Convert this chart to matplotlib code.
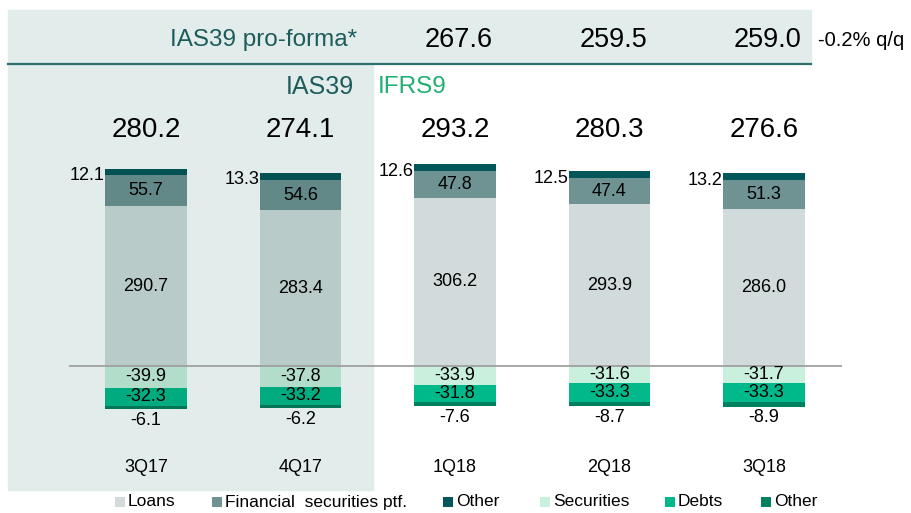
import numpy as np
import matplotlib
matplotlib.use("Agg")
import matplotlib.pyplot as plt
from matplotlib.patches import Rectangle
from matplotlib.lines import Line2D
import matplotlib.transforms as mtransforms

plt.rcParams['font.family'] = ['Liberation Sans', 'DejaVu Sans']

quarters = ['3Q17', '4Q17', '1Q18', '2Q18', '3Q18']
loans = [290.7, 283.4, 306.2, 293.9, 286.0]
fin_sec = [55.7, 54.6, 47.8, 47.4, 51.3]
other_pos = [12.1, 13.3, 12.6, 12.5, 13.2]
securities = [-39.9, -37.8, -33.9, -31.6, -31.7]
debts = [-32.3, -33.2, -31.8, -33.3, -33.3]
other_neg = [-6.1, -6.2, -7.6, -8.7, -8.9]
totals = ['280.2', '274.1', '293.2', '280.3', '276.6']
proforma = ['267.6', '259.5', '259.0']
legend_labels = ['Loans', 'Financial  securities ptf.', 'Other', 'Securities', 'Debts', 'Other']

c_loans = '#d1dbdb'
c_fin = '#6f9393'
c_oth = '#03575a'
c_sec = '#c9efdd'
c_debt = '#00b98b'
c_oneg = '#00805e'
panel = '#e2ecea'
teal_txt = '#1e5c5c'
green_txt = '#1fb071'


def shade(c, on):
    # bars in the grey IAS39 panel look multiplied by the panel colour
    if not on:
        return c
    a = np.array(matplotlib.colors.to_rgb(c))
    b = np.array(matplotlib.colors.to_rgb(panel))
    return tuple(a * b)


W, H = 912, 513
fig = plt.figure(figsize=(W / 100, H / 100), dpi=100)
ax = fig.add_axes([0, 0, 1, 1])
ax.set_zorder(1)
ax.set_xlim(-0.945, 4.958)
ax.set_ylim(-267.3, 665.5)
ax.axis('off')


def yp(p):
    return 1 - p / H


# background panels (pixel layout)
fig.patches.append(Rectangle((8 / W, yp(490)), (373 - 8) / W, (490 - 65) / H,
                             transform=fig.transFigure, color=panel, zorder=0))
fig.patches.append(Rectangle((8 / W, yp(63)), (811 - 8) / W, (63 - 10) / H,
                             transform=fig.transFigure, color=panel, zorder=0))
fig.lines.append(Line2D([8 / W, 811 / W], [yp(63.5), yp(63.5)],
                        transform=fig.transFigure, color='#2d7070', lw=1.6, zorder=0.5))

x = np.arange(len(quarters))
w = 0.525
loans = np.array(loans)
fin_sec = np.array(fin_sec)
other_pos = np.array(other_pos)
securities = np.array(securities)
debts = np.array(debts)
other_neg = np.array(other_neg)

for i in range(len(quarters)):
    inp = i < 2
    ax.bar(x[i], loans[i], w, color=shade(c_loans, inp), zorder=2)
    ax.bar(x[i], fin_sec[i], w, bottom=loans[i], color=shade(c_fin, inp), zorder=2)
    ax.bar(x[i], other_pos[i], w, bottom=loans[i] + fin_sec[i], color=shade(c_oth, inp), zorder=2)
    ax.bar(x[i], securities[i], w, color=shade(c_sec, inp), zorder=2)
    ax.bar(x[i], debts[i], w, bottom=securities[i], color=shade(c_debt, inp), zorder=2)
    ax.bar(x[i], other_neg[i], w, bottom=securities[i] + debts[i], color=shade(c_oneg, inp), zorder=2)

ax.plot([-0.49, 4.50], [0, 0], color='#a0a0a0', lw=1.3, zorder=3)

fs = 13
for i in range(len(quarters)):
    top = loans[i] + fin_sec[i]
    ax.text(x[i], loans[i] / 2, f'{loans[i]:.1f}', ha='center', va='center', fontsize=fs, zorder=4)
    ax.text(x[i], loans[i] + fin_sec[i] / 2, f'{fin_sec[i]:.1f}', ha='center', va='center', fontsize=fs, zorder=4)
    ax.text(x[i] - w / 2 - 0.005, top + other_pos[i] / 2 - 6, f'{other_pos[i]:.1f}',
            ha='right', va='center', fontsize=fs, zorder=4)
    ax.text(x[i], securities[i] / 2, f'{securities[i]:.1f}', ha='center', va='center', fontsize=fs, zorder=4)
    ax.text(x[i], securities[i] + debts[i] / 2, f'{debts[i]:.1f}', ha='center', va='center', fontsize=fs, zorder=4)
    ax.text(x[i], securities[i] + debts[i] + other_neg[i] - 5, f'{other_neg[i]:.1f}',
            ha='center', va='top', fontsize=fs, zorder=4)

# x data, y in figure pixels from top
tr = mtransforms.blended_transform_factory(ax.transData, fig.transFigure)
hdr = mtransforms.offset_copy(tr, fig=fig, x=4, units='dots')

for i, q in enumerate(quarters):
    ax.text(x[i], yp(467), q, transform=tr, ha='center', va='center', fontsize=13)
    ax.text(x[i], yp(130), totals[i], transform=tr, ha='center', va='center', fontsize=20)
for j, v in enumerate(proforma):
    ax.text(x[j + 2], yp(40), v, transform=hdr, ha='center', va='center', fontsize=19.5)

fig.text(357 / W, yp(40), 'IAS39 pro-forma*', ha='right', va='center', fontsize=17.5, color=teal_txt, zorder=5)
fig.text(354 / W, yp(87), 'IAS39', ha='right', va='center', fontsize=18, color=teal_txt, zorder=5)
fig.text(378 / W, yp(87), 'IFRS9', ha='left', va='center', fontsize=17.5, color=green_txt, zorder=5)
fig.text(818 / W, yp(41), '-0.2% q/q', ha='left', va='center', fontsize=14.5, zorder=5)

# legend, placed by hand
leg_colors = [c_loans, c_fin, c_oth, c_sec, c_debt, c_oneg]
leg_x = [120, 217, 448, 545, 670, 766]
for c, lab, px in zip(leg_colors, legend_labels, leg_x):
    fig.lines.append(Line2D([px / W], [yp(502)], marker='s', ls='none', markersize=7.5,
                            color=c, markeredgewidth=0, transform=fig.transFigure))
    fig.text((px + 8) / W, yp(502), lab, ha='left', va='center', fontsize=12.5)

fig.savefig('out.png', dpi=100)
